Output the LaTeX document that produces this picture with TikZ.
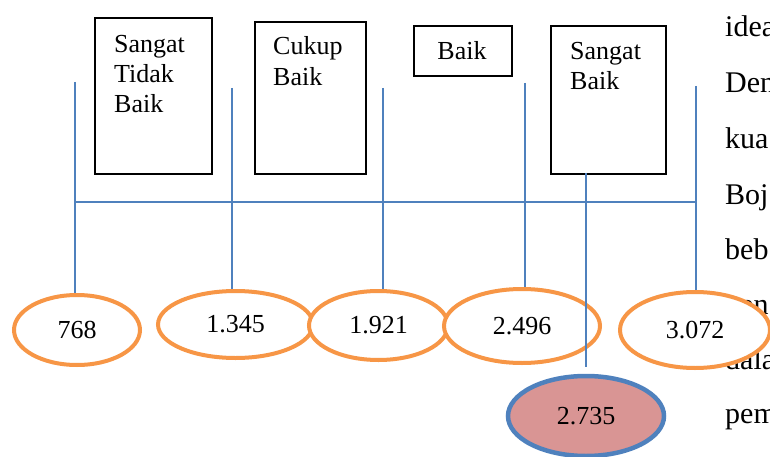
\documentclass[tikz,border=0pt]{standalone}
\usepackage{fontspec}
\setmainfont{Liberation Serif}
\usetikzlibrary{shapes.geometric}
\definecolor{orng}{HTML}{F79646}
\definecolor{bluel}{HTML}{4F81BD}
\definecolor{rosef}{HTML}{D99594}
\newcommand{\lowtxt}[1]{\raisebox{-3pt}{#1}}
\tikzset{
  x=1pt,y=-1pt,
  box/.style={draw=black,line width=1.8pt,fill=white,inner sep=0pt,anchor=north west},
  lbl/.style={inner sep=0pt,font=\fontsize{26}{30}\selectfont,anchor=base west},
  side/.style={inner sep=0pt,font=\fontsize{30}{34}\selectfont,anchor=base west},
  oval/.style={ellipse,draw=orng,line width=4pt,fill=white,inner sep=0pt,font=\fontsize{26}{30}\selectfont},
  hot/.style={ellipse,draw=bluel,line width=4.5pt,fill=rosef,inner sep=0pt,font=\fontsize{26}{30}\selectfont},
  bl/.style={draw=bluel,line width=1.5pt}
}
\begin{document}
\begin{tikzpicture}
\useasboundingbox (0,0) rectangle (770,457);
\clip (0,0) rectangle (770,457);
% side text fragments
\node[side] (s1) at (725,37) {idea};
\node[side] (s2) at (725,93) {Den};
\node[side] (s3) at (725,149) {kua};
\node[side] (s4) at (725,204) {Boj};
\node[side] (s5) at (725,259) {beb};
\node[side] (s6) at (725,314) {pen};
\node[side] (s7) at (725,369) {dala};
\node[side] (s8) at (725,423) {pem};
% boxes
\node[box,minimum width=117,minimum height=156] (b1) at (94,17) {};
\node[box,minimum width=111,minimum height=152] (b2) at (254,21) {};
\node[box,minimum width=98,minimum height=50] (b3) at (413,25) {};
\node[box,minimum width=115,minimum height=148] (b4) at (550,25) {};
\node[lbl] (t1a) at (114,53) {Sangat};
\node[lbl] (t1b) at (114,83) {Tidak};
\node[lbl] (t1c) at (114,113) {Baik};
\node[lbl] (t2a) at (273,55) {Cukup};
\node[lbl] (t2b) at (273,86) {Baik};
\node[lbl,anchor=base] (t3a) at (462,60) {Baik};
\node[lbl] (t4a) at (570,60) {Sangat};
\node[lbl] (t4b) at (570,90) {Baik};
% ellipses
\node[oval,minimum width=126,minimum height=70] (e1) at (77,330) {\lowtxt{768}};
\node[oval,minimum width=155,minimum height=67] (e2) at (235.5,324.5) {\lowtxt{1.345}};
\node[oval,minimum width=139,minimum height=69] (e3) at (378.5,325.5) {\lowtxt{1.921}};
\node[oval,minimum width=156,minimum height=74] (e4) at (522,326) {\lowtxt{2.496}};
\node[oval,minimum width=150,minimum height=76] (e5) at (695,330) {\lowtxt{3.072}};
\node[hot,minimum width=156,minimum height=80] (e6) at (586,416) {\lowtxt{2.735}};
% connector coordinates
\coordinate (p1) at (75,82);
\coordinate (p2) at (232,88);
\coordinate (p3) at (383,88);
\coordinate (p4) at (525,83);
\coordinate (p5) at (696,86);
\coordinate (h1) at (75,202);
\coordinate (h2) at (696,202);
\coordinate (c1) at (586,173);
\coordinate (c2) at (586,367);
\draw[bl] (p1) -- (p1 |- e1.north);
\draw[bl] (p2) -- (p2 |- e2.north);
\draw[bl] (p3) -- (p3 |- e3.north);
\draw[bl] (p4) -- (p4 |- e4.north);
\draw[bl] (p5) -- (p5 |- e5.north);
\draw[bl] (h1) -- (h2);
\draw[bl] (c1) -- (c2);
\end{tikzpicture}
\end{document}
